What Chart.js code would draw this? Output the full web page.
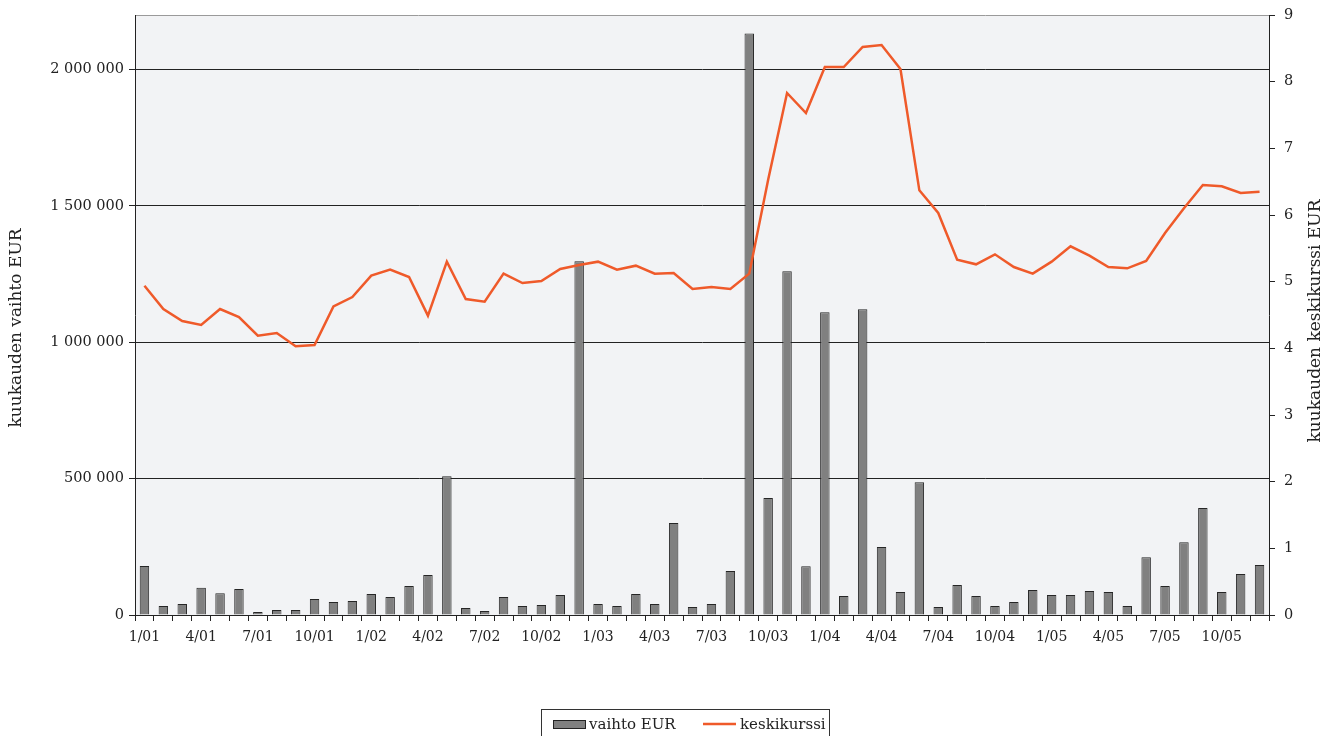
<!DOCTYPE html>
<html>
<head>
<meta charset="utf-8">
<script src="https://cdn.jsdelivr.net/npm/chart.js@4/dist/chart.umd.min.js"></script>
<style>
  body { margin: 0; background: #fff; }
  #wrap { width: 1333px; height: 736px; position: relative; }
</style>
</head>
<body>
<div id="wrap"><canvas id="chart"></canvas></div>
<script>
// months 1/01 .. 12/05
const months = [
  '1/01','2/01','3/01','4/01','5/01','6/01','7/01','8/01','9/01','10/01','11/01','12/01',
  '1/02','2/02','3/02','4/02','5/02','6/02','7/02','8/02','9/02','10/02','11/02','12/02',
  '1/03','2/03','3/03','4/03','5/03','6/03','7/03','8/03','9/03','10/03','11/03','12/03',
  '1/04','2/04','3/04','4/04','5/04','6/04','7/04','8/04','9/04','10/04','11/04','12/04',
  '1/05','2/05','3/05','4/05','5/05','6/05','7/05','8/05','9/05','10/05','11/05','12/05'
];

// kuukauden vaihto EUR (left axis)
const vaihtoEur = [
  180000, 33000, 40000, 100000, 80000, 95000, 11000, 18000, 18000, 59000, 48000, 51000,
  77000, 66000, 106000, 147000, 509000, 26000, 15000, 66000, 33000, 37000, 73000, 1297000,
  40000, 33000, 77000, 40000, 337000, 29000, 40000, 161000, 2132000, 429000, 1260000, 179000,
  1110000, 70000, 1121000, 249000, 84000, 487000, 29000, 110000, 70000, 33000, 48000, 92000,
  73000, 73000, 88000, 84000, 33000, 212000, 106000, 267000, 392000, 84000, 150000, 183000
];

// kuukauden keskikurssi EUR (right axis)
const keskikurssi = [
  4.94, 4.59, 4.41, 4.35, 4.59, 4.47, 4.19, 4.23, 4.03, 4.05, 4.63, 4.77,
  5.09, 5.18, 5.07, 4.49, 5.30, 4.74, 4.70, 5.12, 4.98, 5.01, 5.19, 5.25,
  5.30, 5.18, 5.24, 5.12, 5.13, 4.89, 4.92, 4.89, 5.12, 6.53, 7.83, 7.53,
  8.22, 8.22, 8.52, 8.55, 8.19, 6.37, 6.03, 5.33, 5.26, 5.41, 5.22, 5.12,
  5.30, 5.53, 5.39, 5.22, 5.20, 5.31, 5.73, 6.10, 6.45, 6.43, 6.33, 6.35
];

const leftTicks = [0, 500000, 1000000, 1500000, 2000000];
const leftTitle = 'kuukauden vaihto EUR';
const rightTitle = 'kuukauden keskikurssi EUR';

const serif = "'DejaVu Serif', serif";
const ink = '#222';
const barFill = '#808080';
const lineColor = '#ef5a2a';

const fmt = v => String(v).replace(/\B(?=(\d{3})+(?!\d))/g, ' ');

// plot background, axis titles (both read bottom to top) and boxed legend
const decor = {
  id: 'decor',
  beforeDraw(chart) {
    const { ctx, chartArea: a } = chart;
    ctx.save();
    ctx.fillStyle = '#f2f3f5';
    ctx.fillRect(a.left, a.top, a.right - a.left, a.bottom - a.top);
    ctx.strokeStyle = '#9a9a9a';
    ctx.lineWidth = 1;
    ctx.beginPath();
    ctx.moveTo(a.left, a.top + 0.5);
    ctx.lineTo(a.right, a.top + 0.5);
    ctx.stroke();
    ctx.restore();
  },
  afterDraw(chart) {
    const { ctx } = chart;
    const title = (text, x, y) => {
      ctx.save();
      ctx.font = '17px ' + serif;
      ctx.fillStyle = ink;
      ctx.textAlign = 'center';
      ctx.textBaseline = 'middle';
      ctx.translate(x, y);
      ctx.rotate(-Math.PI / 2);
      ctx.fillText(text, 0, 0);
      ctx.restore();
    };
    title(leftTitle, 17, 328);
    title(rightTitle, 1316, 321);

    // legend
    ctx.save();
    ctx.strokeStyle = '#333';
    ctx.lineWidth = 1;
    ctx.strokeRect(541.5, 709.5, 288, 40);
    ctx.fillStyle = barFill;
    ctx.fillRect(553, 720, 33, 9);
    ctx.strokeStyle = ink;
    ctx.strokeRect(553.5, 720.5, 32, 8);
    ctx.strokeStyle = lineColor;
    ctx.lineWidth = 2.5;
    ctx.beginPath();
    ctx.moveTo(703, 724);
    ctx.lineTo(736, 724);
    ctx.stroke();
    ctx.font = '15px ' + serif;
    ctx.fillStyle = ink;
    ctx.textBaseline = 'alphabetic';
    ctx.fillText(chart.data.datasets[0].label, 589, 729);
    ctx.fillText(chart.data.datasets[1].label, 740, 729);
    ctx.restore();
  }
};

new Chart(document.getElementById('chart'), {
  type: 'bar',
  data: {
    labels: months,
    datasets: [
      {
        label: 'vaihto EUR',
        data: vaihtoEur,
        yAxisID: 'y',
        backgroundColor: barFill,
        borderColor: '#262626',
        borderWidth: 1,
        barPercentage: 0.5,
        categoryPercentage: 1,
        order: 1
      },
      {
        type: 'line',
        label: 'keskikurssi',
        data: keskikurssi,
        yAxisID: 'y1',
        borderColor: lineColor,
        borderWidth: 2.5,
        pointRadius: 0,
        tension: 0,
        order: 0
      }
    ]
  },
  options: {
    responsive: true,
    maintainAspectRatio: false,
    animation: false,
    layout: { padding: { top: 15, left: 0, right: 0, bottom: 80 } },
    plugins: {
      legend: { display: false },
      tooltip: { enabled: false }
    },
    scales: {
      x: {
        offset: true,
        grid: { offset: true, drawOnChartArea: false, drawTicks: true, tickLength: 6, color: ink },
        border: { display: true, color: ink },
        ticks: {
          autoSkip: false,
          maxRotation: 0,
          padding: 8,
          color: ink,
          font: { family: serif, size: 14 },
          callback: function (v, i) { return i % 3 === 0 ? this.getLabelForValue(v) : ''; }
        },
        afterFit: s => { s.height = 41; }
      },
      y: {
        position: 'left',
        min: 0,
        max: 2200000,
        afterBuildTicks: s => { s.ticks = leftTicks.map(v => ({ value: v })); },
        grid: { color: ink, tickLength: 6 },
        border: { display: true, color: ink },
        ticks: {
          autoSkip: false,
          padding: 5,
          color: ink,
          font: { family: serif, size: 14.5 },
          callback: v => fmt(v)
        },
        afterFit: s => { s.width = 135; s.paddingTop = 0; s.paddingBottom = 0; }
      },
      y1: {
        position: 'right',
        min: 0,
        max: 9,
        grid: { drawOnChartArea: false, color: ink, tickLength: 6 },
        border: { display: true, color: ink },
        ticks: {
          stepSize: 1,
          padding: 9,
          color: ink,
          font: { family: serif, size: 14.5 }
        },
        afterFit: s => { s.width = 64; s.paddingTop = 0; s.paddingBottom = 0; }
      }
    }
  },
  plugins: [decor]
});
</script>
</body>
</html>
